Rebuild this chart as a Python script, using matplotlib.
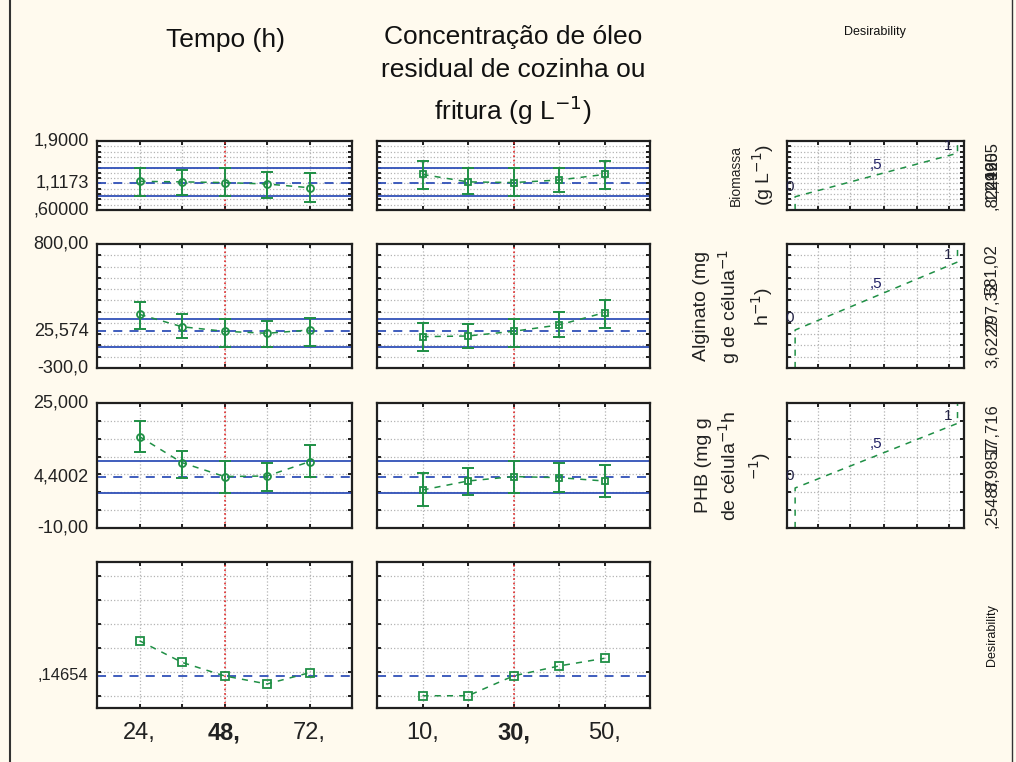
import numpy as np
import matplotlib
matplotlib.use("Agg")
import matplotlib.pyplot as plt

plt.rcParams['font.family'] = ['Liberation Sans', 'DejaVu Sans']

# factor levels
tempo = [24, 36, 48, 60, 72]
oleo = [10, 20, 30, 40, 50]
tempo_labels = ['24,', '', '48,', '', '72,']
oleo_labels = ['10,', '', '30,', '', '50,']
tempo_atual = 48
oleo_atual = 30

# Biomassa (g L-1)
bio_mean = 1.1173
bio_ci = [0.864, 1.397]
bio_t = [1.14, 1.13, 1.117, 1.09, 1.02]
bio_t_lo = [0.86, 0.88, 0.86, 0.82, 0.76]
bio_t_hi = [1.39, 1.35, 1.39, 1.32, 1.29]
bio_o = [1.27, 1.13, 1.117, 1.165, 1.27]
bio_o_lo = [0.99, 0.90, 0.864, 0.93, 0.99]
bio_o_hi = [1.52, 1.40, 1.397, 1.385, 1.52]

# Alginato
alg_mean = 25.574
alg_ci = [-116, 132]
alg_t = [176, 66, 25.574, 8, 37]
alg_t_lo = [43, -36, -116, -111, -105]
alg_t_hi = [288, 179, 132, 120, 146]
alg_o = [-22, -16, 25.574, 82, 191]
alg_o_lo = [-147, -125, -116, -22, 58]
alg_o_hi = [102, 88, 132, 200, 303]

# PHB
phb_mean = 4.4002
phb_ci = [-0.2, 8.76]
phb_t = [15.6, 8.3, 4.4, 4.56, 8.57]
phb_t_lo = [11.2, 3.9, -0.2, 0.36, 4.2]
phb_t_hi = [20.0, 11.65, 8.76, 8.29, 13.2]
phb_o = [0.64, 3.16, 4.4, 4.1, 3.16]
phb_o_lo = [-3.84, -0.76, -0.2, 0.17, -1.23]
phb_o_hi = [5.3, 6.7, 8.76, 8.3, 7.64]

# desirability global
des_mean = 0.14654
des_t = [0.1758, 0.1578, 0.14654, 0.1398, 0.1492]
des_o = [0.13, 0.13, 0.14654, 0.1548, 0.1612]

# desirability functions (low value d=0, high value d=1)
bio_lim = [0.85, 1.67]
alg_lim = [37, 640]
phb_lim = [1.2, 19.3]

# overlapped limit labels at right side
bio_txt = [',82412', '1,2465', '1,9905']
alg_txt = ['3,6227', '297,32', '581,02']
phb_txt = [',25487', '8,9857', '17,716']

row_labels = [None, 'Alginato (mg\ng de célula$^{-1}$\nh$^{-1}$)',
              'PHB (mg g\nde célula$^{-1}$h\n$^{-1}$)']

W, H = 1016, 762
bg = '#FFFAEE'
green = '#1f8f45'
blue = '#3050b8'
red = '#e02828'
grid_c = '#b4b4b4'

fig = plt.figure(figsize=(W / 100, H / 100), dpi=100, facecolor=bg)

cols = [(97, 352), (377, 650), (787, 964)]
rows = [(141, 210), (244, 368), (403, 528), (562, 708)]


def rect(c, r):
    x0, x1 = cols[c]
    y0, y1 = rows[r]
    return [x0 / W, 1 - y1 / H, (x1 - x0) / W, (y1 - y0) / H]


def style(ax, xt, yt):
    ax.set_facecolor('white')
    for s in ax.spines.values():
        s.set_linewidth(1.6)
        s.set_color('#202020')
    ax.set_xticks(xt)
    ax.set_yticks(yt)
    ax.tick_params(direction='in', length=3, width=1.4, top=True, right=True,
                   labelleft=False, labelbottom=False, color='#202020')
    ax.grid(True, color=grid_c, linestyle=':', linewidth=0.9)
    ax.set_axisbelow(True)


ylims = [(0.6, 1.9), (-300, 800), (-10, 25), (0.1198, 0.2414)]
ygrid = [np.arange(0.7, 1.85, 0.1), np.arange(-200, 750, 100),
         np.arange(-5, 24, 5), np.arange(0.13, 0.24, 0.02)]
ytick_txt = [['1,9000', '1,1173', ',60000'], ['800,00', '25,574', '-300,0'],
             ['25,000', '4,4002', '-10,00']]
means = [bio_mean, alg_mean, phb_mean]
cis = [bio_ci, alg_ci, phb_ci]
data_t = [(bio_t, bio_t_lo, bio_t_hi), (alg_t, alg_t_lo, alg_t_hi), (phb_t, phb_t_lo, phb_t_hi)]
data_o = [(bio_o, bio_o_lo, bio_o_hi), (alg_o, alg_o_lo, alg_o_hi), (phb_o, phb_o_lo, phb_o_hi)]
lims = [bio_lim, alg_lim, phb_lim]
txts = [bio_txt, alg_txt, phb_txt]

for r in range(3):
    for c, (xs, dat, cur, xl, mk) in enumerate([
            (tempo, data_t[r], tempo_atual, (12, 84), 'o'),
            (oleo, data_o[r], oleo_atual, (0, 60), 's')]):
        ax = fig.add_axes(rect(c, r))
        style(ax, xs, ygrid[r])
        ax.set_xlim(*xl)
        ax.set_ylim(*ylims[r])
        m, lo, hi = dat
        m = np.array(m)
        ax.axhline(cis[r][0], color=blue, lw=1.3)
        ax.axhline(cis[r][1], color=blue, lw=1.3)
        ax.axhline(means[r], color=blue, lw=1.3, ls=(0, (5, 4)))
        ax.axvline(cur, color=red, lw=1.2, ls=':')
        ax.errorbar(xs, m, yerr=[m - np.array(lo), np.array(hi) - m], fmt='none',
                    ecolor=green, elinewidth=1.4, capsize=4, capthick=1.4)
        ax.plot(xs, m, color=green, lw=1.1, ls=(0, (4, 4)), marker=mk, ms=5,
                mfc='none', mec=green, mew=1.3)
        if c == 0:
            lab = ytick_txt[r]
            y0, y1 = ylims[r]
            for val, t in zip([y1, means[r], y0], lab):
                ax.annotate(t, xy=(0, val), xycoords=('axes fraction', 'data'),
                            xytext=(-6, 0), textcoords='offset points',
                            ha='right', va='center', fontsize=13, color='#222222')

    # desirability function panel
    ax = fig.add_axes(rect(2, r))
    style(ax, [0.14, 0.34, 0.55, 0.75, 0.95], ygrid[r])
    ax.set_xlim(-0.05, 1.04)
    y0, y1 = ylims[r]
    ax.set_ylim(y0, y1)
    lo, hi = lims[r]
    ax.plot([0, 0, 1, 1], [y0, lo, hi, y1], color=green, lw=1.1, ls=(0, (4, 4)))
    ax.text(-0.01, lo + 0.04 * (y1 - y0), '0', ha='right', va='bottom', fontsize=11, color='#222244')
    ax.text(0.5, (lo + hi) / 2 + 0.04 * (y1 - y0), ',5', ha='center', va='bottom', fontsize=11, color='#222266')
    ax.text(0.97, hi, '1', ha='right', va='bottom', fontsize=11, color='#222244')
    # overlapped right labels
    for t, yy, va in zip(txts[r], [0.0, 0.5, 1.0], ['bottom', 'center', 'top']):
        ax.text(1.16, yy, t, transform=ax.transAxes, rotation=90, ha='center', va=va,
                fontsize=12, color='#222222')
    yc = 1 - (rows[r][0] + rows[r][1]) / 2 / H
    if r == 0:
        fig.text(736 / W, yc, 'Biomassa', rotation=90, ha='center', va='center',
                 fontsize=10, color='#222222')
        fig.text(763 / W, yc, '(g L$^{-1}$)', rotation=90, ha='center', va='center',
                 fontsize=14, color='#222222')
    else:
        fig.text(734 / W, yc, row_labels[r], rotation=90, ha='center', va='center',
                 fontsize=14, linespacing=1.35, color='#222222')

# global desirability row
for c, (xs, d, cur, xl, lab) in enumerate([
        (tempo, des_t, tempo_atual, (12, 84), tempo_labels),
        (oleo, des_o, oleo_atual, (0, 60), oleo_labels)]):
    ax = fig.add_axes(rect(c, 3))
    style(ax, xs, ygrid[3])
    ax.set_xlim(*xl)
    ax.set_ylim(*ylims[3])
    ax.axhline(des_mean, color=blue, lw=1.3, ls=(0, (5, 4)))
    ax.axvline(cur, color=red, lw=1.2, ls=':')
    ax.plot(xs, d, color=green, lw=1.1, ls=(0, (4, 4)), marker='s', ms=6,
            mfc='none', mec=green, mew=1.3)
    ax.tick_params(labelbottom=True, pad=10)
    ax.set_xticklabels(lab, fontsize=17, color='#222222')
    ax.get_xticklabels()[2].set_fontweight('bold')
    if c == 0:
        ax.annotate(',14654', xy=(0, des_mean), xycoords=('axes fraction', 'data'),
                    xytext=(-6, 0), textcoords='offset points',
                    ha='right', va='center', fontsize=12, color='#222222')

# titles
fig.text(225 / W, 1 - 40 / H, 'Tempo (h)', ha='center', va='center', fontsize=19, color='#111111')
fig.text(513 / W, 1 - 76 / H, 'Concentração de óleo\nresidual de cozinha ou\nfritura (g L$^{-1}$)',
         ha='center', va='center', fontsize=19, linespacing=1.45, color='#111111')
fig.text(875 / W, 1 - 32 / H, 'Desirability', ha='center', va='center', fontsize=9, color='#111111')
fig.text(992 / W, 1 - 635 / H, 'Desirability', ha='center', va='center', fontsize=9,
         rotation=90, color='#111111')

# outer frame lines
fig.add_artist(plt.Line2D([10 / W, 10 / W], [0, 1], color='#333333', lw=1.5))
fig.add_artist(plt.Line2D([1012 / W, 1012 / W], [0, 1], color='#333333', lw=1.0))

fig.savefig('out.png', dpi=100, facecolor=bg)
